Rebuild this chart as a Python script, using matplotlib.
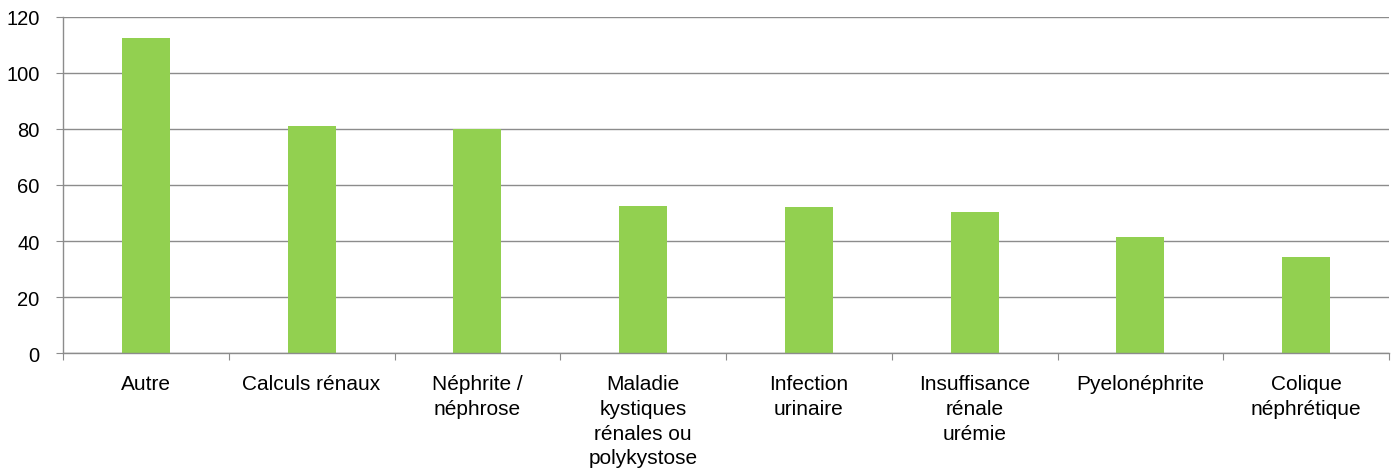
import numpy as np
import matplotlib
matplotlib.use('Agg')
import matplotlib.pyplot as plt

plt.rcParams['font.family'] = ['Liberation Sans', 'DejaVu Sans']

# données
categories = ['Autre', 'Calculs rénaux', 'Néphrite /\nnéphrose',
              'Maladie\nkystiques\nrénales ou\npolykystose',
              'Infection\nurinaire', 'Insuffisance\nrénale\nurémie',
              'Pyelonéphrite', 'Colique\nnéphrétique']
values = [112.5, 81, 80, 52.5, 52, 50.5, 41.5, 34.5]
yticks = [0, 20, 40, 60, 80, 100, 120]

fig = plt.figure(figsize=(13.91, 4.77), dpi=100)
ax = fig.add_axes([63 / 1391, 122.7 / 477, 1326 / 1391, 336.6 / 477])

x = np.arange(len(categories))
ax.bar(x, values, width=0.29, color='#92D050', zorder=2)

ax.set_xlim(-0.5, len(categories) - 0.5)
ax.set_ylim(0, 120)
ax.set_yticks(yticks)
ax.set_yticklabels([str(v) for v in yticks], fontsize=14.5)
ax.yaxis.grid(True, color='#8c8c8c', linewidth=1.0, zorder=0)
ax.set_axisbelow(True)

# graduations entre les catégories, libellés au centre
ax.set_xticks(np.arange(-0.5, len(categories) + 0.5, 1.0))
ax.set_xticklabels([])
ax.set_xticks(x, minor=True)
ax.set_xticklabels(categories, minor=True, fontsize=15, linespacing=1.38,
                   ha='center', va='top', multialignment='center')
ax.tick_params(axis='x', which='minor', length=0, pad=15)
ax.tick_params(axis='x', which='major', length=5, color='#8c8c8c', direction='out')
ax.tick_params(axis='y', length=5, color='#8c8c8c', pad=12)

for s in ['top', 'right']:
    ax.spines[s].set_visible(False)
for s in ['left', 'bottom']:
    ax.spines[s].set_color('#8c8c8c')
    ax.spines[s].set_linewidth(1.0)

plt.savefig('out.png', dpi=100)
